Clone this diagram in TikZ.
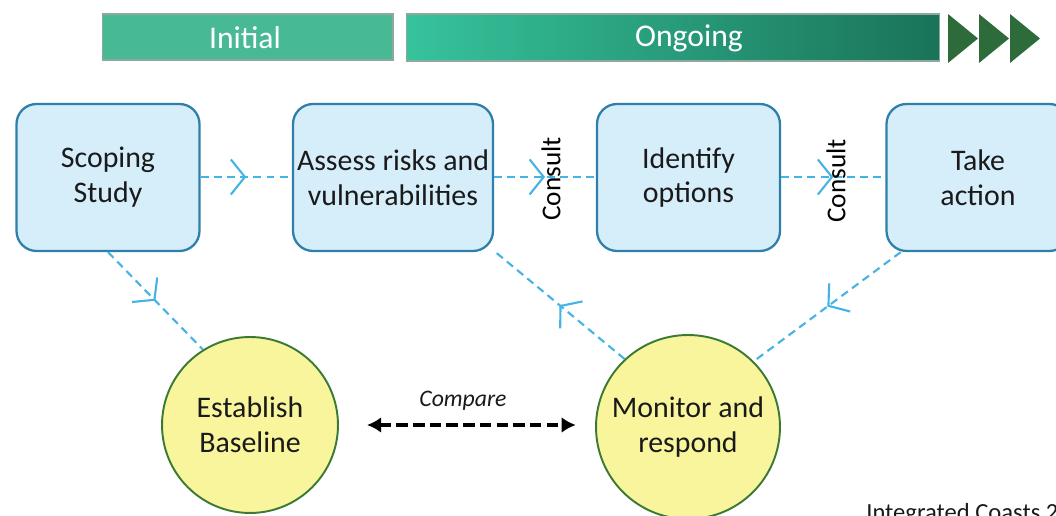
\documentclass[tikz,border=0pt]{standalone}
\usepackage{fontspec}
\setmainfont{Carlito}
\usetikzlibrary{arrows.meta,decorations.markings,shapes.geometric}
\definecolor{boxfill}{HTML}{D6EEFA}
\definecolor{boxline}{HTML}{2E80AB}
\definecolor{circfill}{HTML}{F8F59C}
\definecolor{circline}{HTML}{3C7A34}
\definecolor{conn}{HTML}{45B3E3}
\definecolor{barinit}{HTML}{48B995}
\definecolor{barleft}{HTML}{36C39C}
\definecolor{barright}{HTML}{1A7358}
\definecolor{barline}{HTML}{8FA89E}
\definecolor{chev}{HTML}{2E6B3B}
\definecolor{txt}{HTML}{1A1A1A}
\tikzset{
  x=0.02cm, y=-0.02cm,
  stepbox/.style={draw=boxline, line width=1.3pt, fill=boxfill, rounded corners=0.4cm,
    minimum width=3.66cm, minimum height=2.94cm, align=center, text=txt,
    font=\fontsize{17}{19.8}\selectfont, inner sep=0pt},
  stagecirc/.style={circle, draw=circline, line width=1.1pt, fill=circfill, align=center,
    text=txt, font=\fontsize{17}{19.8}\selectfont, inner sep=0pt},
  bartext/.style={text=white, font=\fontsize{18}{20}\selectfont},
  flow/.style={draw=conn, line width=1.2pt, dash pattern=on 4.5pt off 3pt,
    postaction={decorate},
    decoration={markings, mark=at position 0.5 with {\arrow[conn, line width=1.2pt, solid]{Straight Barb[length=8pt,width=20pt]}}}},
  consultlabel/.style={rotate=90, text=black, font=\fontsize{15.5}{17}\selectfont},
  cmp/.style={draw=black, line width=2.3pt, dash pattern=on 6.5pt off 3pt,
    {Latex[length=8pt,width=9pt]}-{Latex[length=8pt,width=9pt]}},
}
\begin{document}
\begin{tikzpicture}
\useasboundingbox (0,0) rectangle (1056,516);
\clip (0,0) rectangle (1056,516);
\fill[white] (0,0) rectangle (1056,516);

% top bars
\node[draw=barline, line width=0.6pt, fill=barinit, minimum width=5.82cm, minimum height=0.92cm,
  inner sep=0pt] (initial) at (247.5,37) {};
\node[bartext] (initialtxt) at (245,38) {Initial};
\node[draw=barline, line width=0.6pt, left color=barleft, right color=barright, minimum width=10.68cm,
  minimum height=0.94cm, inner sep=0pt] (ongoing) at (673,37.5) {};
\node[bartext] (ongoingtxt) at (689,38) {Ongoing};
\fill[chev] (948,14) -- (978,38.5) -- (948,63) -- cycle;
\fill[chev] (979,14) -- (1009,38.5) -- (979,63) -- cycle;
\fill[chev] (1010,14) -- (1040,38.5) -- (1010,63) -- cycle;

% boxes
\node[stepbox] (scope) at (108,177.5) {Scoping\\Study};
\node[stepbox, minimum width=4cm] (assess) at (393,177.5) {Assess risks and\\vulnerabilities};
\node[stepbox] (identify) at (688.5,177.5) {Identify\\options};
\node[stepbox] (take) at (978,177.5) {Take\\action};

% circles
\node[stagecirc, minimum size=3.52cm] (base) at (250,425) {Establish\\Baseline};
\node[stagecirc, minimum size=3.68cm] (mon) at (688,427) {Monitor and\\respond};

% connectors
\coordinate (sa) at (scope.east |- 0,177);
\coordinate (sb) at (assess.west |- 0,177);
\coordinate (sc) at (assess.east |- 0,177);
\coordinate (sd) at (identify.west |- 0,177);
\coordinate (se) at (identify.east |- 0,177);
\coordinate (sf) at (take.west |- 0,177);
\draw[flow] (sa) -- (sb);
\draw[flow] (sc) -- (sd);
\draw[flow] (se) -- (sf);
\draw[flow] (scope.south) -- (base.122);
\draw[flow] (mon.133) -- (assess.-36);
\draw[flow] (take.-136) -- (mon.45);

% consult labels
\node[consultlabel] (c1) at (551,179) {Consult};
\node[consultlabel] (c2) at (836,181) {Consult};

% compare
\draw[cmp, shorten <=16pt, shorten >=11pt] (base.east) -- (base.east -| mon.west);
\node[font=\fontsize{13.5}{15}\selectfont\itshape, text=txt] (cmplabel) at (463,401) {Compare};

% source
\node[anchor=north west, inner sep=0pt, font=\fontsize{14}{16}\selectfont, text=txt] (src) at (866,503) {Integrated Coasts 2};
\end{tikzpicture}
\end{document}
